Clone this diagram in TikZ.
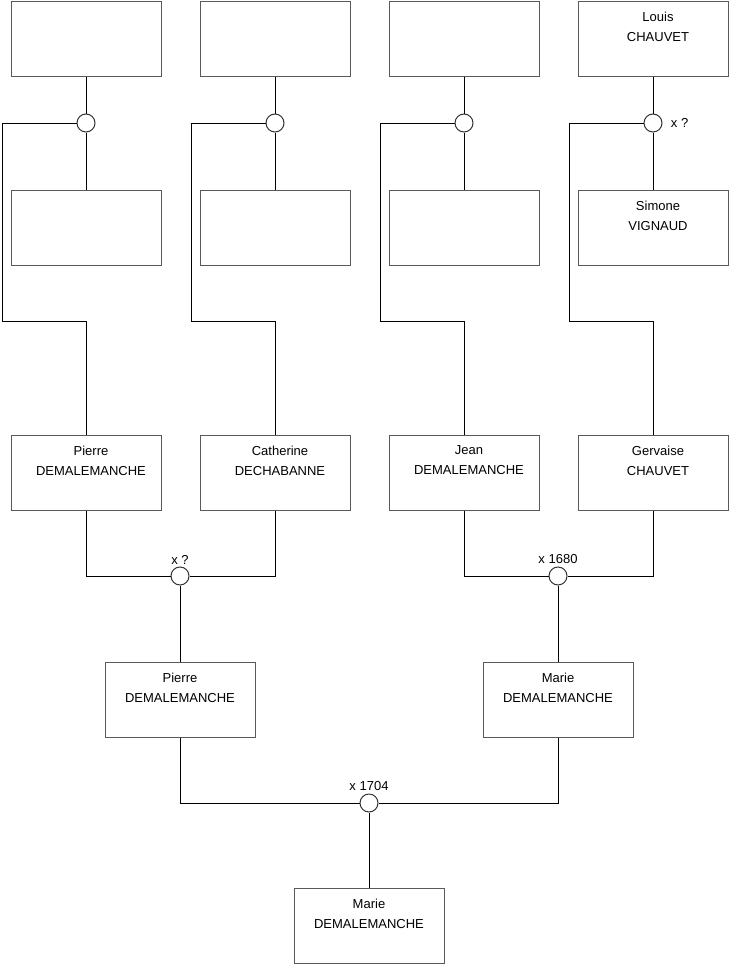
\documentclass[tikz,border=0pt]{standalone}
\usepackage{fontspec}
\setmainfont{Liberation Sans}

\begin{document}
\begin{tikzpicture}[
  x={(0.5pt,0pt)}, y={(0pt,-0.5pt)},
  person/.style={draw=black!65, line width=0.5pt, minimum width=75pt, minimum height=37.5pt, inner sep=0pt},
  who/.style={anchor=north, align=center, inner sep=0pt, yshift=-5.5pt,
              font=\fontsize{6.5pt}{10pt}\selectfont},
  whoR/.style={who, xshift=2.5pt},
  union/.style={circle, draw=black!80, fill=white, line width=0.5pt, minimum size=9pt, inner sep=0pt},
  date/.style={inner sep=1pt, font=\fontsize{6.5pt}{8pt}\selectfont},
  link/.style={line width=0.5pt},
]
\useasboundingbox (0,0) rectangle (740,975);

% ── great-grandparents: fathers on top, mothers below ─────────────────────
\node[person] (fa1) at (86,38.5) {};
\node[person] (fa2) at (275,38.5) {};
\node[person] (fa3) at (464,38.5) {};
\node[person, label={[whoR]north:{Louis\\CHAUVET}}] (fa4) at (653,38.5) {};

\node[person] (mo1) at (86,227.5) {};
\node[person] (mo2) at (275,227.5) {};
\node[person] (mo3) at (464,227.5) {};
\node[person, label={[whoR]north:{Simone\\VIGNAUD}}] (mo4) at (653,227.5) {};

\node[union] (u1) at (86,123) {};
\node[union] (u2) at (275,123) {};
\node[union] (u3) at (464,123) {};
\node[union] (u4) at (653,123) {};
\node[date, anchor=west, xshift=3pt] (d4) at (u4.east) {x ?};

% ── grandparents ──────────────────────────────────────────────────────────
\node[person, label={[whoR]north:{Pierre\\DEMALEMANCHE}}]   (gp1) at (86,472.5) {};
\node[person, label={[whoR]north:{Catherine\\DECHABANNE}}]  (gp2) at (275,472.5) {};
\node[person, label={[whoR]north:{Jean\\DEMALEMANCHE}}]     (gp3) at (464,472.5) {};
\node[person, label={[whoR]north:{Gervaise\\CHAUVET}}]      (gp4) at (653,472.5) {};

\foreach \i/\x in {1/2, 2/191, 3/380, 4/569} {
  \draw[link] (fa\i) -- (u\i) -- (mo\i);
  \draw[link] (u\i.west) -| (\x,321) -| (gp\i.north);   % down to the child
}

\node[union] (u5) at (180,576) {};
\node[union] (u6) at (558,576) {};
\node[date, anchor=south] (d5) at (u5.north) {x ?};
\node[date, anchor=south] (d6) at (u6.north) {x 1680};

% ── parents ───────────────────────────────────────────────────────────────
\node[person, label={[who]north:{Pierre\\DEMALEMANCHE}}] (pa1) at (180,699.5) {};
\node[person, label={[who]north:{Marie\\DEMALEMANCHE}}]  (pa2) at (558,699.5) {};

\draw[link] (gp1.south) |- (u5.west);
\draw[link] (gp2.south) |- (u5.east);
\draw[link] (u5) -- (pa1);
\draw[link] (gp3.south) |- (u6.west);
\draw[link] (gp4.south) |- (u6.east);
\draw[link] (u6) -- (pa2);

\node[union] (u7) at (369,803) {};
\node[date, anchor=south] (d7) at (u7.north) {x 1704};

% ── the child ─────────────────────────────────────────────────────────────
\node[person, label={[who]north:{Marie\\DEMALEMANCHE}}] (ch) at (369,925.5) {};

\draw[link] (pa1.south) |- (u7.west);
\draw[link] (pa2.south) |- (u7.east);
\draw[link] (u7) -- (ch);

\end{tikzpicture}
\end{document}
